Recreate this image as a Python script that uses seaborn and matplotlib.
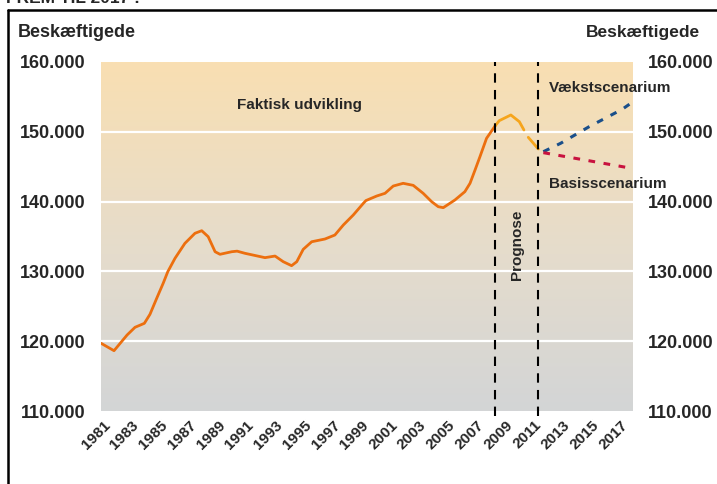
import numpy as np
import pandas as pd
import matplotlib
matplotlib.use("Agg")
import matplotlib.pyplot as plt
from matplotlib.colors import LinearSegmentedColormap
import seaborn as sns

# Faktisk udvikling (decimal years, employed persons)
actual_year = [1980.88, 1981.78, 1982.69, 1983.24, 1983.89, 1984.28, 1984.75, 1985.20,
               1985.52, 1986.02, 1986.71, 1987.41, 1987.88, 1988.33, 1988.81, 1989.15,
               1989.97, 1990.34, 1990.89, 1992.28, 1992.98, 1993.55, 1994.13, 1994.49,
               1994.94, 1995.53, 1996.45, 1997.14, 1997.73, 1998.42, 1999.12, 1999.30,
               2000.05, 2000.63, 2001.20, 2001.89, 2002.59, 2003.28, 2003.87, 2004.33,
               2004.68, 2005.49, 2006.18, 2006.54, 2006.89, 2007.23, 2007.69, 2008.28]
actual_value = [119700, 118640, 120890, 121990, 122560, 123850, 126150, 128300,
                129960, 131870, 134020, 135460, 135830, 134970, 132820, 132450,
                132820, 132900, 132590, 131970, 132200, 131390, 130820, 131390,
                133160, 134250, 134640, 135210, 136650, 138080, 139750, 140150,
                140800, 141190, 142230, 142620, 142330, 141190, 139990, 139270,
                139130, 140230, 141420, 142620, 144530, 146430, 149070, 150830]

# Prognose (two pieces, gap in between)
prog1_year = [2008.28, 2008.57, 2009.38, 2009.97, 2010.29]
prog1_value = [150830, 151590, 152410, 151450, 150260]
prog2_year = [2010.59, 2011.29]
prog2_value = [149210, 147540]

# Scenarier
scen_year = [2011.64, 2012.84, 2014.82, 2017.12, 2017.78]
vaekst_value = [147150, 148350, 150730, 153220, 154170]
basis_value = [147010, 146570, 145850, 145010, 144770]

prognose_start = 2008.25
prognose_end = 2011.25

yticks = [110000, 120000, 130000, 140000, 150000, 160000]
ytick_labels = ["110.000", "120.000", "130.000", "140.000", "150.000", "160.000"]
xticks = list(range(1981, 2018, 2))

sns.set_style("white")
plt.rcParams["font.family"] = ["Liberation Sans", "DejaVu Sans"]
plt.rcParams["font.weight"] = "bold"

fig = plt.figure(figsize=(7.17, 4.84), dpi=100)
ax = fig.add_axes([101 / 717, 73 / 484, 532 / 717, 349 / 484])

xmin, xmax = 1980.875, 2017.875
ymin, ymax = 110000, 160000

# background gradient
cmap = LinearSegmentedColormap.from_list(
    "bg", [(0.0, "#d3d5d6"), (0.45, "#e5dccc"), (1.0, "#f9dfb2")])
grad = np.linspace(0, 1, 256).reshape(-1, 1)
ax.imshow(grad, cmap=cmap, origin="lower", aspect="auto",
          extent=[xmin, xmax, ymin, ymax], zorder=0)

for y in yticks[1:-1]:
    ax.axhline(y, color="white", lw=1.6, zorder=1)

sns.lineplot(x=actual_year, y=actual_value, ax=ax, color="#ec6f0f", lw=2.0,
             estimator=None, sort=False, zorder=3)
sns.lineplot(x=prog1_year, y=prog1_value, ax=ax, color="#f6a51c", lw=2.0,
             estimator=None, sort=False, zorder=3)
sns.lineplot(x=prog2_year, y=prog2_value, ax=ax, color="#f6a51c", lw=2.0,
             estimator=None, sort=False, zorder=3)
sns.lineplot(x=scen_year, y=vaekst_value, ax=ax, color="#1a4f8a", lw=2.2,
             estimator=None, sort=False, zorder=3, linestyle=(0, (2.2, 2.8)))
sns.lineplot(x=scen_year, y=basis_value, ax=ax, color="#c8123f", lw=2.2,
             estimator=None, sort=False, zorder=3, linestyle=(0, (2.2, 2.8)))

for xv in [prognose_start, prognose_end]:
    ax.plot([xv, xv], [ymin - 700, ymax], color="black", lw=1.5,
            linestyle=(0, (4.5, 3.5)), zorder=4, clip_on=False)

ax.set_xlim(xmin, xmax)
ax.set_ylim(ymin, ymax)
ax.set_xticks(xticks)
ax.set_xticklabels([str(t) for t in xticks], rotation=45, ha="right",
                   rotation_mode="anchor", fontsize=11, fontweight="bold")
ax.set_yticks(yticks)
ax.set_yticklabels(ytick_labels, fontsize=13, fontweight="bold")
ax.tick_params(axis="both", length=0)
ax.tick_params(axis="y", pad=11.5)
ax.tick_params(axis="x", pad=5)
for s in ax.spines.values():
    s.set_visible(False)

ax2 = ax.twinx()
ax2.set_ylim(ymin, ymax)
ax2.set_yticks(yticks)
ax2.set_yticklabels(ytick_labels, fontsize=13, fontweight="bold")
ax2.tick_params(axis="y", length=0, pad=10.5)
for s in ax2.spines.values():
    s.set_visible(False)

ax.text(1994.7, 153840, "Faktisk udvikling", fontsize=11, fontweight="bold",
        ha="center", va="center", zorder=5)
ax.text(2012.05, 156300, "Vækstscenarium", fontsize=11, fontweight="bold",
        ha="left", va="center", zorder=5)
ax.text(2012.05, 142500, "Basisscenarium", fontsize=11, fontweight="bold",
        ha="left", va="center", zorder=5)
ax.text(2009.8, 133800, "Prognose", fontsize=11, fontweight="bold",
        ha="center", va="center", rotation=90, zorder=5)

fig.text(18 / 717, 1 - 33 / 484, "Beskæftigede", fontsize=13,
         fontweight="bold", ha="left", va="center")
fig.text(700 / 717, 1 - 33 / 484, "Beskæftigede", fontsize=12.5,
         fontweight="bold", ha="right", va="center")
fig.text(6 / 717, 1 - 3 / 484, "FREM TIL 2017 !", fontsize=12.5,
         fontweight="bold", ha="left", va="baseline")

# frame around the chart
fig.add_artist(plt.Line2D([8 / 717, 8 / 717], [0, 1 - 10 / 484],
                          transform=fig.transFigure, color="black", lw=1.8))
fig.add_artist(plt.Line2D([8 / 717, 1], [1 - 10 / 484, 1 - 10 / 484],
                          transform=fig.transFigure, color="black", lw=1.8))

fig.savefig("out.png", dpi=100)
